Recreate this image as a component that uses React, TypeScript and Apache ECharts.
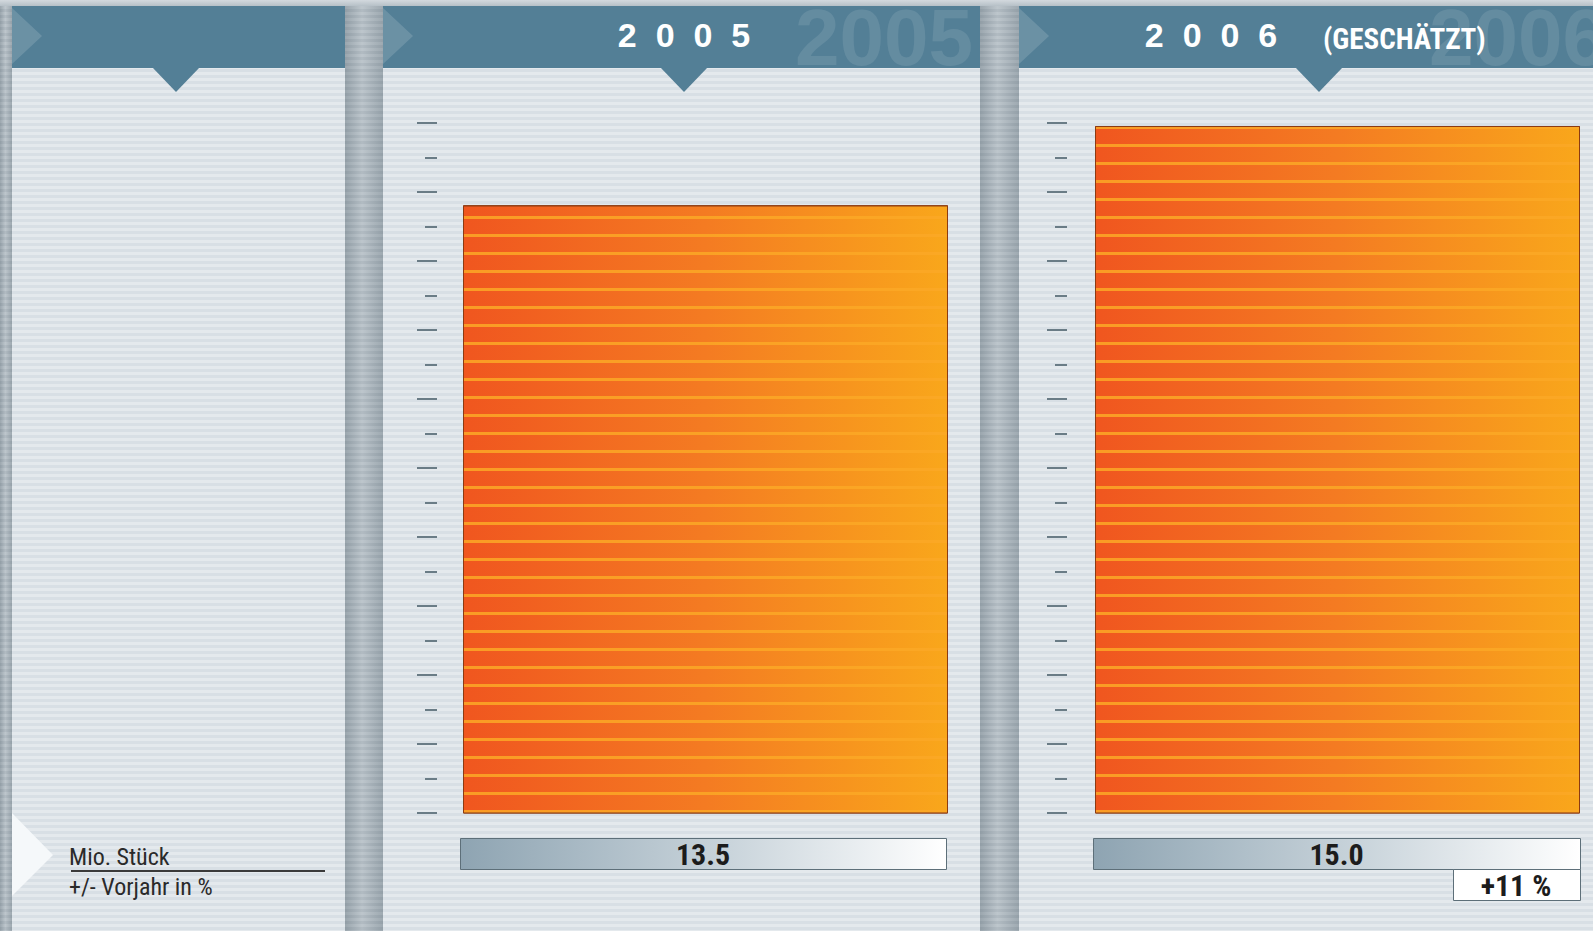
import React, { useEffect, useRef } from 'react';
import * as echarts from 'echarts';

// ---------- data ----------
const years = ['2005', '2006'];
const yearNotes = ['', '(GESCHÄTZT)'];
const values = [13.5, 15.0];
const changePct: (number | null)[] = [null, 11];
const unitLabel = 'Mio. Stück';
const changeLabel = '+/- Vorjahr in %';

// ---------- layout / style ----------
const W = 1593;
const H = 931;
const HEADER = '#537f96';
const NARROW = "'Liberation Sans Narrow', 'Roboto Condensed', 'Arial Narrow', 'Liberation Sans', sans-serif";
const SANS = "'Liberation Sans', Arial, sans-serif";

const panels = [
  { x: 12, w: 333, tri: 176 },
  { x: 383, w: 597, tri: 684 },
  { x: 1019, w: 574, tri: 1319 },
];
const plots = [
  { left: 463, width: 485, tickOffset: 26, boxX: 460, boxW: 486, titleX: 684, markX: 795, noteX: 0 },
  { left: 1095, width: 485, tickOffset: 28, boxX: 1093, boxW: 487, titleX: 1211, markX: 1429, noteX: 1323 },
];
const GRID_TOP = 123;
const GRID_H = 690;

export default function App() {
  const ref = useRef<HTMLDivElement>(null);

  useEffect(() => {
    if (!ref.current) return;
    const chart = echarts.init(ref.current, undefined, { renderer: 'svg', width: W, height: H });

    const graphic: any[] = [];
    panels.forEach((p) => {
      graphic.push({ type: 'rect', silent: true, shape: { x: p.x, y: 6, width: p.w, height: 62 }, style: { fill: HEADER } });
      graphic.push({ type: 'polygon', silent: true, shape: { points: [[p.tri - 24, 67], [p.tri + 24, 67], [p.tri, 92]] }, style: { fill: HEADER } });
      graphic.push({ type: 'polygon', silent: true, shape: { points: [[p.x, 8], [p.x + 30, 36], [p.x, 64]] }, style: { fill: 'rgba(255,255,255,0.14)' } });
    });

    years.forEach((yr, i) => {
      const pl = plots[i];
      graphic.push({ type: 'text', silent: true, x: pl.markX, y: 37, style: { text: yr, fontSize: 80, fontWeight: 'bold', fontFamily: SANS, fill: 'rgba(255,255,255,0.1)', align: 'left', verticalAlign: 'middle' } });
      graphic.push({ type: 'text', silent: true, x: pl.titleX, y: 35, style: { text: yr.split('').join('  '), fontSize: 34, fontWeight: 'bold', fontFamily: SANS, fill: '#ffffff', align: 'center', verticalAlign: 'middle' } });
      if (yearNotes[i]) {
        graphic.push({ type: 'text', silent: true, x: pl.noteX, y: 39, style: { text: yearNotes[i], fontSize: 29, fontWeight: 'bold', fontFamily: NARROW, fill: '#ffffff', align: 'left', verticalAlign: 'middle' } });
      }
      graphic.push({
        type: 'rect', silent: true,
        shape: { x: pl.boxX + 0.5, y: 838.5, width: pl.boxW, height: 31 },
        style: {
          fill: { type: 'linear', x: 0, y: 0, x2: 1, y2: 0, colorStops: [{ offset: 0, color: '#8ea4b2' }, { offset: 0.55, color: '#c9d4db' }, { offset: 1, color: '#ffffff' }] },
          stroke: '#5d6f79', lineWidth: 1,
        },
      });
      graphic.push({ type: 'text', silent: true, x: pl.boxX + pl.boxW / 2, y: 854, style: { text: values[i].toFixed(1), fontSize: 30, fontWeight: 'bold', fontFamily: NARROW, fill: '#1c1c1c', align: 'center', verticalAlign: 'middle' } });
      const c = changePct[i];
      if (c != null) {
        const bx = pl.boxX + pl.boxW - 127;
        graphic.push({ type: 'rect', silent: true, shape: { x: bx + 0.5, y: 869.5, width: 127, height: 31 }, style: { fill: '#ffffff', stroke: '#5d6f79', lineWidth: 1 } });
        graphic.push({ type: 'text', silent: true, x: bx + 63, y: 885, style: { text: `${c > 0 ? '+' : ''}${c} %`, fontSize: 30, fontWeight: 'bold', fontFamily: NARROW, fill: '#1c1c1c', align: 'center', verticalAlign: 'middle' } });
      }
    });

    // legend area bottom-left
    graphic.push({ type: 'polygon', silent: true, shape: { points: [[12, 813], [53, 855], [12, 896]] }, style: { fill: '#f5f8fa' } });
    graphic.push({ type: 'text', silent: true, x: 69, y: 857, style: { text: unitLabel, fontSize: 24, fontFamily: NARROW, fill: '#2a2a2a', align: 'left', verticalAlign: 'middle' } });
    graphic.push({ type: 'line', silent: true, shape: { x1: 71, y1: 871, x2: 325, y2: 871 }, style: { stroke: '#3a3a3a', lineWidth: 2 } });
    graphic.push({ type: 'text', silent: true, x: 69, y: 887, style: { text: changeLabel, fontSize: 24, fontFamily: NARROW, fill: '#2a2a2a', align: 'left', verticalAlign: 'middle' } });

    const grid = plots.map((pl) => ({ left: pl.left, width: pl.width, top: GRID_TOP, height: GRID_H, containLabel: false }));
    const xAxis = years.map((yr, i) => ({
      type: 'category', gridIndex: i, data: [yr], show: false,
    }));
    const yAxis: any[] = [];
    plots.forEach((pl, i) => {
      // value axis for bars (hidden)
      yAxis.push({ type: 'value', gridIndex: i, min: 2, max: 15.057, show: false });
      // decorative tick axis
      yAxis.push({
        type: 'value', gridIndex: i, min: 0, max: 20, interval: 2, position: 'left', offset: pl.tickOffset,
        axisLine: { show: false },
        axisLabel: { show: false },
        splitLine: { show: false },
        axisTick: { show: true, inside: false, length: 20, lineStyle: { color: '#6a7c86', width: 2 } },
        minorTick: { show: true, splitNumber: 2, length: 12, lineStyle: { color: '#6a7c86', width: 2 } },
      });
    });

    const series = years.map((yr, i) => ({
      type: 'bar',
      name: yr,
      xAxisIndex: i,
      yAxisIndex: i * 2,
      barWidth: '100%',
      data: [values[i]],
      itemStyle: {
        color: { type: 'linear', x: 0, y: 0, x2: 1, y2: 0, colorStops: [{ offset: 0, color: '#f0561f' }, { offset: 0.5, color: '#f47b22' }, { offset: 1, color: '#f9a71b' }] },
        borderColor: '#8c3b12',
        borderWidth: 1,
        decal: {
          symbol: 'rect',
          symbolSize: 1,
          color: 'rgba(252,168,38,0.85)',
          dashArrayX: [[1, 0]],
          dashArrayY: [2.5, 14.75],
          rotation: 0,
        },
      },
      label: { show: false },
      silent: true,
    }));

    chart.setOption({
      animation: false,
      backgroundColor: 'transparent',
      grid,
      xAxis,
      yAxis,
      series,
      graphic: { elements: graphic },
    });
    return () => chart.dispose();
  }, []);

  const sepBg = 'linear-gradient(90deg, rgba(80,95,105,0.25), rgba(255,255,255,0.12) 45%, rgba(80,95,105,0.22)), repeating-linear-gradient(180deg, #b4bec5 0px, #b4bec5 3px, #a7b2ba 3px, #a7b2ba 6px)';

  return (
    <div style={{ position: 'fixed', left: 0, top: 0, width: W, height: H, overflow: 'hidden', background: 'repeating-linear-gradient(180deg, #e4e9ed 0px, #e4e9ed 3px, #d8dfe5 3px, #d8dfe5 6px)' }}>
      <div style={{ position: 'absolute', left: 0, top: 0, width: 12, height: H, background: sepBg }} />
      <div style={{ position: 'absolute', left: 345, top: 0, width: 38, height: H, background: sepBg }} />
      <div style={{ position: 'absolute', left: 980, top: 0, width: 39, height: H, background: sepBg }} />
      <div style={{ position: 'absolute', left: 0, top: 0, width: W, height: 6, background: 'linear-gradient(180deg, #d3d9de, #b6c0c7)' }} />
      <div ref={ref} style={{ position: 'absolute', left: 0, top: 0, width: W, height: H }} />
    </div>
  );
}
